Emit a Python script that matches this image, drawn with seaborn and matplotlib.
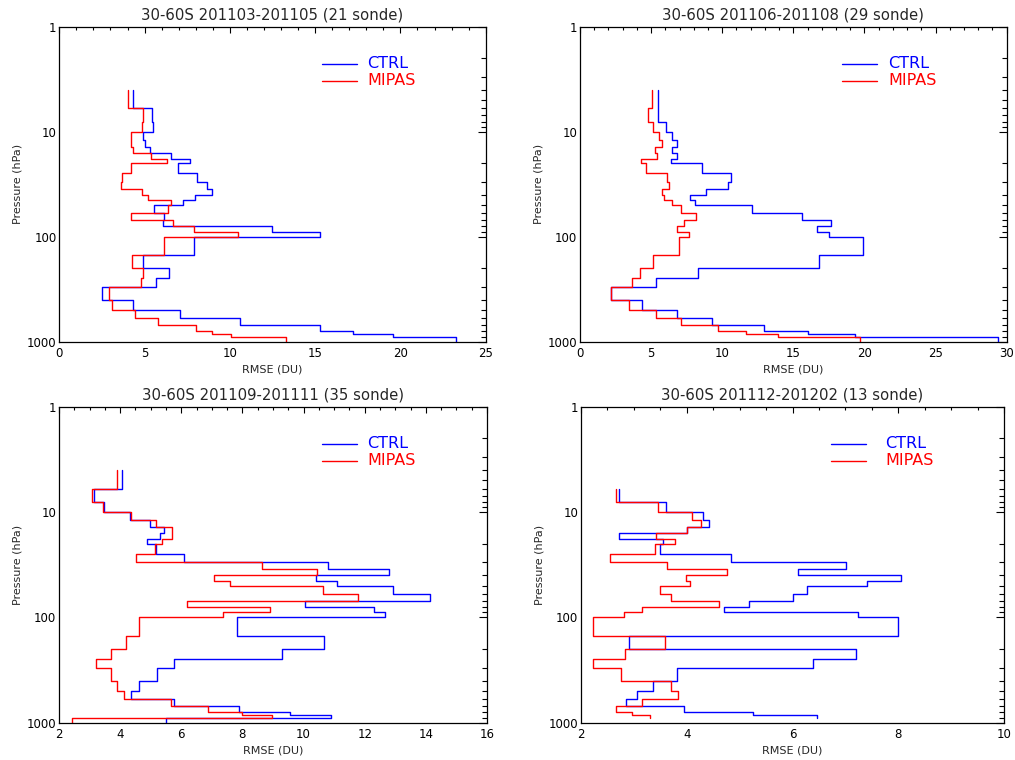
import numpy as np
import pandas as pd
import seaborn as sns
import matplotlib
matplotlib.use("Agg")
import matplotlib.pyplot as plt
from matplotlib.ticker import LogLocator, FixedLocator, MultipleLocator, NullFormatter

# Pressure layer edges (hPa), top to bottom
edges_full = [4, 6, 8, 10, 12, 14, 16, 18, 20, 25, 30, 35, 40, 45, 50, 60, 70, 80,
              90, 100, 150, 200, 250, 300, 400, 500, 600, 700, 800, 850, 900, 1000]
edges_djf = [6, 8, 10, 12, 14, 16, 18, 20, 25, 30, 35, 40, 45, 50, 60, 70, 80,
             90, 100, 150, 200, 250, 300, 400, 500, 600, 700, 800, 850, 900]

titles = ["30-60S 201103-201105 (21 sonde)", "30-60S 201106-201108 (29 sonde)",
          "30-60S 201109-201111 (35 sonde)", "30-60S 201112-201202 (13 sonde)"]

# RMSE (DU) per layer
ctrl_mam = [4.34, 5.42, 5.52, 4.93, 5.05, 5.32, 6.56, 7.67, 6.95, 8.06, 8.65, 8.98, 7.93, 7.28,
            5.58, 6.15, 6.07, 12.46, 15.30, 7.87, 4.93, 6.46, 5.66, 2.50, 4.31, 7.08, 10.57,
            15.26, 17.20, 19.57, 23.23]
mipas_mam = [4.05, 4.89, 4.83, 4.19, 4.21, 4.30, 5.36, 6.30, 4.21, 3.68, 3.64, 4.83, 5.22, 6.56,
             6.36, 4.19, 6.69, 7.87, 10.47, 6.11, 4.25, 4.89, 4.79, 2.94, 3.07, 4.44, 5.81,
             8.02, 8.94, 10.06, 13.29]

ctrl_jja = [5.51, 5.51, 6.02, 6.49, 6.80, 6.49, 6.80, 6.40, 8.55, 10.62, 10.43, 8.86, 7.73, 8.09,
            12.12, 15.63, 17.65, 16.64, 17.53, 19.87, 16.83, 8.27, 5.32, 2.16, 4.38, 6.84, 9.26,
            12.96, 16.05, 19.33, 29.41]
mipas_jja = [5.04, 4.80, 5.16, 5.55, 5.79, 5.27, 5.39, 4.29, 4.64, 6.09, 6.26, 5.79, 5.93, 6.49,
             7.08, 8.16, 7.31, 6.84, 7.66, 6.96, 5.16, 4.22, 3.68, 2.16, 3.47, 5.34, 7.08,
             9.73, 11.67, 13.94, 19.69]

ctrl_son = [4.05, 3.14, 3.48, 4.32, 4.98, 5.43, 5.30, 4.89, 5.16, 6.10, 10.81, 12.80, 10.40, 11.08,
            12.91, 14.14, 10.05, 12.32, 12.67, 7.81, 10.68, 9.28, 5.77, 5.20, 4.63, 4.36, 5.77,
            7.89, 9.56, 10.90, 5.49]
mipas_son = [3.89, 3.09, 3.45, 4.36, 5.16, 5.71, 5.71, 5.38, 5.14, 4.52, 8.65, 10.45, 7.08, 7.59,
             10.63, 11.77, 6.18, 8.90, 7.35, 4.63, 4.18, 3.70, 3.20, 3.69, 3.89, 4.14, 5.65,
             6.89, 7.98, 8.98, 2.44]

ctrl_djf = [2.71, 3.60, 4.30, 4.43, 4.01, 2.72, 3.56, 3.49, 4.83, 7.01, 6.10, 8.05, 7.40, 6.28,
            6.00, 5.18, 4.70, 7.23, 8.00, 2.91, 7.21, 6.38, 3.82, 3.36, 3.05, 2.86, 3.95,
            5.26, 6.47]
mipas_djf = [2.67, 3.46, 4.09, 4.27, 4.01, 3.42, 3.77, 3.40, 2.55, 3.62, 4.77, 3.98, 4.06, 3.49,
             3.71, 4.61, 3.15, 2.82, 2.23, 3.58, 2.83, 2.23, 2.76, 3.71, 3.84, 3.15, 2.67,
             2.96, 3.31]

xlims = [(0, 25), (0, 30), (2, 16), (2, 10)]
xmajor = [5, 5, 2, 2]
xminor = [1, 1, 0.5, 0.5]

panels = [
    (edges_full, ctrl_mam, mipas_mam),
    (edges_full, ctrl_jja, mipas_jja),
    (edges_full, ctrl_son, mipas_son),
    (edges_djf, ctrl_djf, mipas_djf),
]

# axes boxes in pixels (left, top, right, bottom)
W, H = 1015.0, 760.0
boxes = [
    (59.3, 26.8, 485.7, 341.6),
    (580.0, 26.8, 1006.7, 341.6),
    (59.0, 406.6, 487.0, 722.6),
    (581.0, 406.6, 1004.0, 722.6),
]
legend_pos = [(322, 357, 367), (842, 877, 888), (322, 357, 367), (831, 866, 885)]

sns.set_theme(style="white")
plt.rcParams["font.family"] = ["DejaVu Sans"]


def profile_frame(edges, values, name):
    xs, ys = [], []
    for i, v in enumerate(values):
        xs += [v, v]
        ys += [edges[i], edges[i + 1]]
    return pd.DataFrame({"rmse": xs, "p": ys, "exp": name})


fig = plt.figure(figsize=(W / 100, H / 100), dpi=100)
for k, ((edges, ctrl, mipas), (x0, y0, x1, y1)) in enumerate(zip(panels, boxes)):
    ax = fig.add_axes([x0 / W, 1 - y1 / H, (x1 - x0) / W, (y1 - y0) / H])
    for vals, name, col in ((ctrl, "CTRL", "#0000ff"), (mipas, "MIPAS", "#ff0000")):
        df = profile_frame(edges, vals, name)
        sns.lineplot(data=df, x="rmse", y="p", sort=False, estimator=None,
                     color=col, linewidth=1.0, ax=ax)
    ax.set_yscale("log")
    ax.set_ylim(1000, 1)
    ax.set_xlim(*xlims[k])
    ax.yaxis.set_major_locator(FixedLocator([1, 10, 100, 1000]))
    ax.set_yticklabels(["1", "10", "100", "1000"])
    ax.yaxis.set_minor_locator(LogLocator(base=10, subs=np.arange(2, 10)))
    ax.yaxis.set_minor_formatter(NullFormatter())
    ax.xaxis.set_major_locator(MultipleLocator(xmajor[k]))
    ax.xaxis.set_minor_locator(MultipleLocator(xminor[k]))
    ax.tick_params(axis="both", which="both", direction="in", top=True, right=True,
                   colors="black", labelsize=8.5, width=0.8)
    ax.tick_params(axis="y", which="major", length=6, pad=2)
    ax.tick_params(axis="y", which="minor", length=3.5)
    ax.tick_params(axis="x", which="major", length=4.5, pad=4)
    ax.tick_params(axis="x", which="minor", length=2.5)
    for s in ax.spines.values():
        s.set_color("black")
        s.set_linewidth(0.9)
    ax.set_xlabel("RMSE (DU)", fontsize=8, labelpad=3)
    ax.set_ylabel("Pressure (hPa)", fontsize=8, labelpad=3)
    ax.set_title(titles[k], fontsize=10.7, pad=5)
    if ax.get_legend() is not None:
        ax.get_legend().remove()

    # legend drawn as line samples plus coloured labels
    lx0, lx1, tx = legend_pos[k]
    trans = ax.transAxes
    fx0 = (lx0 - x0) / (x1 - x0)
    fx1 = (lx1 - x0) / (x1 - x0)
    ftx = (tx - x0) / (x1 - x0)
    for j, (name, col) in enumerate((("CTRL", "#0000ff"), ("MIPAS", "#ff0000"))):
        ypix = y0 + 37 + 17 * j
        fy = (y1 - ypix) / (y1 - y0)
        ax.plot([fx0, fx1], [fy, fy], color=col, linewidth=1.0, transform=trans)
        ax.text(ftx, fy, name, color=col, fontsize=11.5, va="center", ha="left",
                transform=trans)

fig.savefig("out.png", dpi=100)
